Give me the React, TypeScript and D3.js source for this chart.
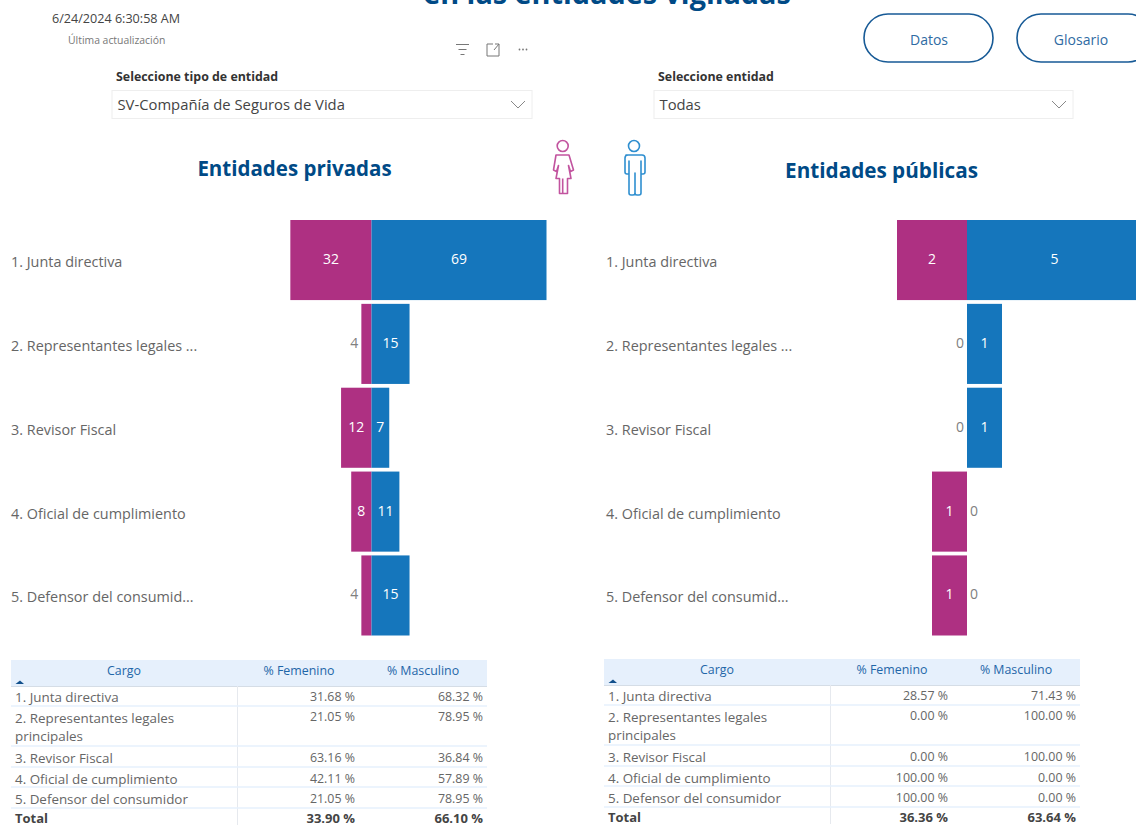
import React from "react";
import * as d3 from "d3";

const categories = ["1. Junta directiva", "2. Representantes legales principales", "3. Revisor Fiscal", "4. Oficial de cumplimiento", "5. Defensor del consumidor"];
const axisLabels = ["1. Junta directiva", "2. Representantes legales ...", "3. Revisor Fiscal", "4. Oficial de cumplimiento", "5. Defensor del consumid..."];
const privFem = [32, 4, 12, 8, 4];
const privMasc = [69, 15, 7, 11, 15];
const pubFem = [2, 0, 0, 1, 1];
const pubMasc = [5, 1, 1, 0, 0];
const privPctFem = ["31.68 %", "21.05 %", "63.16 %", "42.11 %", "21.05 %"];
const privPctMasc = ["68.32 %", "78.95 %", "36.84 %", "57.89 %", "78.95 %"];
const pubPctFem = ["28.57 %", "0.00 %", "0.00 %", "100.00 %", "100.00 %"];
const pubPctMasc = ["71.43 %", "100.00 %", "100.00 %", "0.00 %", "0.00 %"];
const privTotal = ["33.90 %", "66.10 %"];
const pubTotal = ["36.36 %", "63.64 %"];

const FONT = "'Open Sans', 'Noto Sans', sans-serif";
const NAVY = "#004a86";
const PINK = "#ae3082";
const BLUE = "#1576bc";

const yBand = d3.scaleBand<string>().domain(categories).range([220, 635.5]).paddingInner(0.045).paddingOuter(0);

function Funnel({ fem, masc, zero, unit, labelX }: { fem: number[]; masc: number[]; zero: number; unit: number; labelX: number }) {
  const maxV = d3.max(masc) as number;
  const x = d3.scaleLinear().domain([0, maxV]).range([zero, zero + maxV * unit]);
  const xF = d3.scaleLinear().domain([0, maxV]).range([zero, zero - maxV * unit]);
  return (
    <g fontFamily={FONT} fontSize={14}>
      {categories.map((c, i) => {
        const y = yBand(c) as number;
        const h = yBand.bandwidth();
        const fw = zero - xF(fem[i]);
        const mw = x(masc[i]) - zero;
        const cy = y + h / 2 + 4;
        return (
          <g key={c}>
            <text x={labelX} y={y + h / 2 + 7} fontSize={14.4} fill="#666">{axisLabels[i]}</text>
            {fem[i] > 0 && <rect x={xF(fem[i])} y={y} width={fw} height={h} fill={PINK} />}
            {masc[i] > 0 && <rect x={zero} y={y} width={mw} height={h} fill={BLUE} />}
            {fw > 18 ? (
              <text x={zero - fw / 2} y={cy} textAnchor="middle" fill="#fff" fontWeight={500}>{fem[i]}</text>
            ) : (
              <text x={zero - fw - 3} y={cy} textAnchor="end" fill="#808080">{fem[i]}</text>
            )}
            {mw > 15 ? (
              <text x={zero + mw / 2} y={cy} textAnchor="middle" fill="#fff" fontWeight={500}>{masc[i]}</text>
            ) : (
              <text x={zero + mw + 3} y={cy} textAnchor="start" fill="#808080">{masc[i]}</text>
            )}
          </g>
        );
      })}
    </g>
  );
}

function Table({ dx, dy, pf, pm, total }: { dx: number; dy: number; pf: string[]; pm: string[]; total: string[] }) {
  const centers = [697, 728, 758, 779, 799];
  const seps = [706, 746, 767, 787, 808];
  return (
    <g transform={`translate(${dx},${dy})`} fontFamily={FONT} fontSize={12.4} fill="#666">
      <rect x={11} y={660} width={476} height={26} fill="#e6f0fc" />
      <line x1={11} x2={487} y1={686.5} y2={686.5} stroke="#d5dde6" />
      <line x1={237.5} x2={237.5} y1={686} y2={825} stroke="#e6e9ee" />
      <text x={124} y={675} textAnchor="middle" fill="#1f66a8">Cargo</text>
      <text x={299} y={675} textAnchor="middle" fill="#1f66a8">% Femenino</text>
      <text x={423} y={675} textAnchor="middle" fill="#1f66a8">% Masculino</text>
      <path d="M15.5,684 L20,680.5 L24,684 Z" fill="#12508c" />
      {seps.map((s) => <line key={s} x1={11} x2={487} y1={s} y2={s} stroke="#e6f0fc" strokeWidth={1.6} />)}
      {categories.map((c, i) => (
        <g key={c}>
          {i === 1 ? (
            <>
              <text x={15} y={723} fontSize={13.4}>2. Representantes legales</text>
              <text x={15} y={741} fontSize={13.4}>principales</text>
            </>
          ) : (
            <text x={15} y={centers[i] + 4.5} fontSize={13.4}>{c}</text>
          )}
          <text x={355} y={(i === 1 ? 716 : centers[i] - 1) + 4.5} textAnchor="end">{pf[i]}</text>
          <text x={483} y={(i === 1 ? 716 : centers[i] - 1) + 4.5} textAnchor="end">{pm[i]}</text>
        </g>
      ))}
      <text x={15} y={823} fontSize={13} fontWeight={700} fill="#444">Total</text>
      <text x={355} y={823} fontSize={13} textAnchor="end" fontWeight={700} fill="#444">{total[0]}</text>
      <text x={483} y={823} fontSize={13} textAnchor="end" fontWeight={700} fill="#444">{total[1]}</text>
    </g>
  );
}

function Dropdown({ x, w, label, value }: { x: number; w: number; label: string; value: string }) {
  return (
    <g fontFamily={FONT}>
      <text x={x + 4} y={81} fontSize={12.4} fontWeight={700} fill="#333">{label}</text>
      <rect x={x} y={90.5} width={w} height={28} fill="#fff" stroke="#eeeeee" />
      <text x={x + 5.5} y={110} fontSize={14.8} fill="#444">{value}</text>
      <path d={`M${x + w - 21},101 l7,7 l7,-7`} fill="none" stroke="#888" />
    </g>
  );
}

export default function App() {
  return (
    <svg width={1136} height={825} viewBox="0 0 1136 825" style={{ position: "absolute", left: 0, top: 0, display: "block", background: "#fff" }}>
      <g fontFamily={FONT}>
        <text x={607} y={4} textAnchor="middle" fontSize={28.8} fontWeight={700} fill={NAVY}>en las entidades vigiladas</text>
        <text x={52} y={23} fontSize={12.6} fill="#444">6/24/2024 6:30:58 AM</text>
        <text x={68} y={44} fontSize={10.4} fill="#777">Última actualización</text>
        <text x={294.5} y={176} textAnchor="middle" fontSize={20.5} fontWeight={700} fill={NAVY}>Entidades privadas</text>
        <text x={881.5} y={178} textAnchor="middle" fontSize={20.7} fontWeight={700} fill={NAVY}>Entidades públicas</text>
        <rect x={864} y={14} width={129} height={48} rx={24} fill="#fff" stroke="#175a96" strokeWidth={1.6} />
        <text x={929} y={45} textAnchor="middle" fontSize={14} fill="#2f6ba3">Datos</text>
        <rect x={1017} y={14} width={135} height={48} rx={24} fill="#fff" stroke="#175a96" strokeWidth={1.6} />
        <text x={1081} y={45} textAnchor="middle" fontSize={14} fill="#2f6ba3">Glosario</text>
      </g>
      <g stroke="#777" fill="none">
        <path d="M456,44.5 h13 M458.5,49.5 h8 M460.5,54.5 h4" />
        <path d="M487,50 v-6 h6 M499,44 v6 M487,50 v6 h12 v-6 M494,50 l5,-6 M495,44 h4" />
      </g>
      <g fill="#777">
        <circle cx={519.5} cy={49.5} r={0.9} />
        <circle cx={523} cy={49.5} r={0.9} />
        <circle cx={526.5} cy={49.5} r={0.9} />
      </g>
      <Dropdown x={112} w={420} label="Seleccione tipo de entidad" value="SV-Compañía de Seguros de Vida" />
      <Dropdown x={654} w={419} label="Seleccione entidad" value="Todas" />
      <g fill="none" stroke="#c2549f" strokeWidth={1.6} strokeLinejoin="round">
        <circle cx={562.7} cy={146} r={5.5} />
        <path d="M556,155 h13 l4.5,15 l-3,1.5 l-2,-6 l2.5,13 h-3.5 v15 h-8 v-15 h-3.5 l2.5,-13 l-2,6 l-3,-1.5 Z M562.7,178.5 v15" />
      </g>
      <g fill="none" stroke="#2f8fd0" strokeWidth={1.6} strokeLinejoin="round">
        <circle cx={634} cy={146} r={5.5} />
        <path d="M626,155 h16 q3,0 3,3 v14 q0,2 -2,2 h-2 v-13 v32 q0,2 -2,2 h-2 q-2,0 -2,-2 v-20 v20 q0,2 -2,2 h-2 q-2,0 -2,-2 v-32 v13 h-2 q-2,0 -2,-2 v-14 q0,-3 3,-3 Z" />
      </g>
      <Funnel fem={privFem} masc={privMasc} zero={371.5} unit={175 / 69} labelX={11} />
      <Funnel fem={pubFem} masc={pubMasc} zero={967} unit={35} labelX={606} />
      <Table dx={0} dy={0} pf={privPctFem} pm={privPctMasc} total={privTotal} />
      <Table dx={593} dy={-1} pf={pubPctFem} pm={pubPctMasc} total={pubTotal} />
    </svg>
  );
}
